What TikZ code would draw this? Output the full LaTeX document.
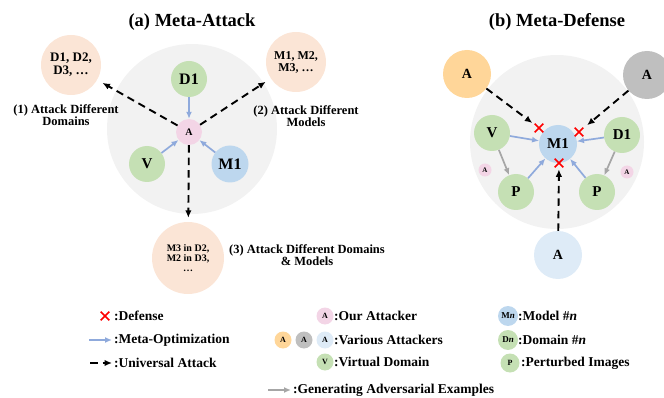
\documentclass[tikz,border=0pt]{standalone}
\usepackage{fontspec}
\setmainfont{Liberation Serif}
\usetikzlibrary{positioning,arrows.meta,shapes.misc}

\definecolor{bggray}{HTML}{F2F2F2}
\definecolor{atkpink}{HTML}{F3D5E6}
\definecolor{domgreen}{HTML}{C5E0B4}
\definecolor{modblue}{HTML}{BDD7EE}
\definecolor{peach}{HTML}{FBE5D6}
\definecolor{atkorange}{HTML}{FFD699}
\definecolor{atkgray}{HTML}{BFBFBF}
\definecolor{atkblue}{HTML}{DEEBF7}
\definecolor{optblue}{HTML}{8FAADC}
\definecolor{gengray}{HTML}{A6A6A6}

\newcommand{\fs}[1]{\bfseries\fontsize{#1}{#1}\selectfont}

\begin{document}
\begin{tikzpicture}[
  x=1pt,y=-1pt,
  ball/.style={circle,inner sep=0pt,align=center,font=\fs{15}},
  domnode/.style={ball,fill=domgreen,minimum size=36pt},
  modnode/.style={ball,fill=modblue,minimum size=37pt},
  outnode/.style={ball,fill=peach,minimum size=60pt},
  bignode/.style={ball,minimum size=48pt,font=\fs{14}},
  keynode/.style={ball,minimum size=17pt,font=\fs{8}},
  lbl/.style={align=center,font=\fs{12.5}},
  keytxt/.style={anchor=west,inner sep=0pt,font=\fs{13.5}},
  metaopt/.style={draw=optblue,line width=1.7pt,-{Latex[length=7pt,width=6pt]}},
  genex/.style={draw=gengray,line width=1.7pt,-{Latex[length=7pt,width=6pt]}},
  uni/.style={draw=black,line width=1.9pt,dash pattern=on 7.5pt off 5pt,-{Latex[length=7.5pt,width=6.5pt]}},
  defx/.style={cross out,draw=red,line width=1.6pt,minimum size=7pt,inner sep=0pt}
  ]
  \useasboundingbox (0,0) rectangle (664,398);

  % (a) meta-attack
  \node[font=\fs{18.5}] (ttla) at (192,22) {(a) Meta-Attack};
  \node[ball,fill=bggray,minimum size=170pt] (arenaa) at (192,129) {};
  \node[ball,fill=atkpink,minimum size=26pt,font=\fs{10}] (atk) at (189,132) {A};
  \node[domnode,font=\fs{16}] (da) at (189,79) {D1};
  \node[domnode] (va) at (147,164) {V};
  \node[modnode,font=\fs{16}] (ma) at (230,164) {M1};

  \node[outnode,font=\fs{13}] (od) at (71,65) {D1, D2,\\D3, …};
  \node[outnode,font=\fs{12}] (om) at (296,62) {M1, M2,\\M3, …};
  \node[outnode,minimum size=72pt,font=\fs{10}] (ox) at (188,258) {M3 in D2,\\M2 in D3,\\…};

  \node[lbl] (lab1) at (66,115) {(1) Attack Different\\Domains};
  \node[lbl] (lab2) at (306,116) {(2) Attack Different\\Models};
  \node[lbl] (lab3) at (307,255) {(3) Attack Different Domains\\\& Models};

  \path (da) edge[metaopt] (atk)
        (va) edge[metaopt] (atk)
        (ma) edge[metaopt] (atk);
  \path (atk) edge[uni,shorten >=6pt] (od)
        (atk) edge[uni,shorten >=6pt] (om)
        (atk) edge[uni,shorten >=4pt] (ox);

  % (b) meta-defense
  \node[font=\fs{18.5}] (ttlb) at (557,22) {(b) Meta-Defense};
  \node[ball,fill=bggray,minimum size=174pt] (arenab) at (557,142) {};
  \node[modnode,minimum size=38pt] (mb) at (558,144) {M1};
  \node[domnode] (vb) at (492,133) {V};
  \node[domnode] (db) at (622,135) {D1};
  \node[domnode] (pl) at (516,192) {P};
  \node[domnode] (pr) at (597,192) {P};
  \node[ball,fill=atkpink,minimum size=13pt,font=\fs{7}] (sal) at (485,170) {A};
  \node[ball,fill=atkpink,minimum size=13pt,font=\fs{7}] (sar) at (627,172) {A};

  \node[bignode,fill=atkorange] (oa) at (467,74) {A};
  \node[bignode,fill=atkgray] (ga) at (647,75) {A};
  \node[bignode,fill=atkblue] (ba) at (558,255) {A};

  \node[defx] (x1) at (539,128) {};
  \node[defx] (x2) at (579,132) {};
  \node[defx] (x3) at (559,163) {};

  \path (vb) edge[metaopt] (mb)
        (pl) edge[metaopt] (mb)
        (db) edge[metaopt] (mb)
        (pr) edge[metaopt] (mb);
  \path (vb) edge[genex] (pl)
        (db) edge[genex] (pr);
  \path (oa) edge[uni,shorten >=3pt] (x1)
        (ga) edge[uni,shorten >=5pt] (x2)
        (ba) edge[uni,shorten >=2pt] (x3);

  % legend
  \node[defx] (kx) at (105,316) {};
  \node[keytxt] (tdef) at (114,316) {:Defense};
  \node[keytxt] (tmeta) at (114,340) {:Meta-Optimization};
  \node[keytxt] (tuni) at (114,363) {:Universal Attack};
  \coordinate (kmeta) at (89,340);
  \coordinate (kuni) at (90,363);
  \draw[metaopt] (kmeta) -- ([xshift=-2pt]tmeta.west);
  \draw[uni] (kuni) -- ([xshift=-2pt]tuni.west);

  \node[keynode,fill=atkpink] (kpink) at (325,316) {A};
  \node[keynode,fill=atkorange] (korange) at (283,340) {A};
  \node[keynode,fill=atkgray] (kgray) at (304,340) {A};
  \node[keynode,fill=atkblue] (kblue) at (325,340) {A};
  \node[keynode,fill=domgreen] (kvirt) at (325,362) {V};
  \node[keytxt] (tour) at (334,316) {:Our Attacker};
  \node[keytxt] (tvar) at (334,340) {:Various Attackers};
  \node[keytxt] (tvirt) at (334,362) {:Virtual Domain};

  \coordinate (kgen) at (268,390);
  \node[keytxt] (tgen) at (293,390) {:Generating Adversarial Examples};
  \draw[genex] (kgen) -- ([xshift=-2pt]tgen.west);

  \node[keynode,fill=modblue,minimum size=20pt,font=\fs{9}] (kmod) at (508,316) {M\textit{n}};
  \node[keynode,fill=domgreen,minimum size=20pt,font=\fs{9}] (kdom) at (508,340) {D\textit{n}};
  \node[keynode,fill=domgreen,minimum size=19pt] (kpert) at (510,363) {P};
  \node[keytxt] (tmod) at (518,316) {:Model \#\textit{n}};
  \node[keytxt] (tdom) at (518,340) {:Domain \#\textit{n}};
  \node[keytxt] (tpert) at (521,363) {:Perturbed Images};
\end{tikzpicture}
\end{document}
